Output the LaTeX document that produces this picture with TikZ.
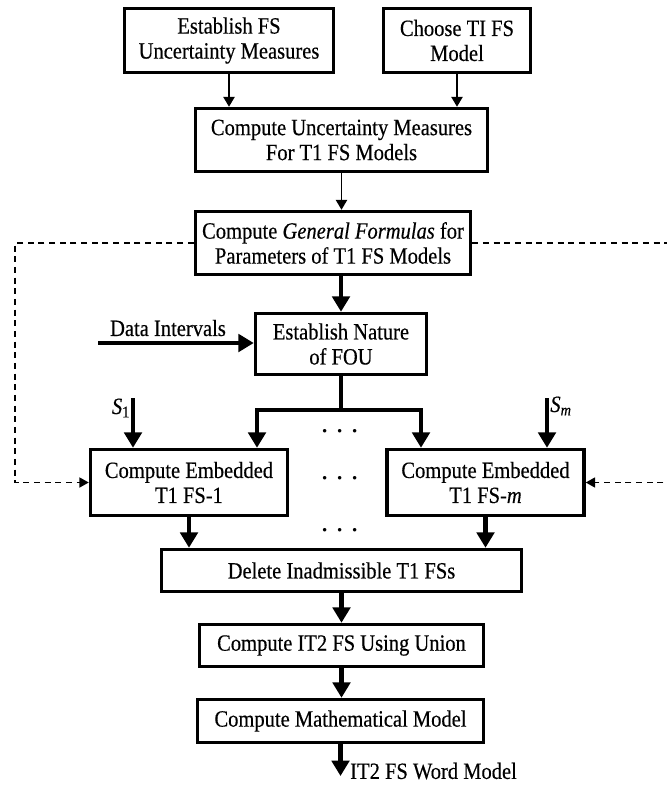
\documentclass[tikz,border=0pt]{standalone}
\usepackage{fontspec}
\setmainfont{Liberation Serif}[FakeStretch=0.88,FakeBold=0.4]
\usetikzlibrary{arrows.meta}

\begin{document}
\begin{tikzpicture}[x=0.75pt,y=-0.75pt,
  box/.style={draw,line width=2.6pt,align=center,inner sep=0pt,font=\fontsize{17.5}{18.75}\selectfont},
  txt/.style={inner sep=0pt,font=\fontsize{17.5}{18.75}\selectfont},
  thinarrow/.style={line width=1.3pt,-{Triangle[length=7.5pt,width=8.5pt]}},
  thickarrow/.style={line width=3.6pt,-{Triangle[length=11.5pt,width=13pt]}},
  feedback/.style={line width=1.1pt,dash pattern=on 4.5pt off 3.5pt,-{Triangle[length=7pt,width=7.5pt]}}]

  \useasboundingbox (0,0) rectangle (667,785);

  \node[box,minimum width=156.75pt,minimum height=48pt] (estfs) at (229,40.5) {Establish FS\\Uncertainty Measures};
  \node[box,minimum width=110.25pt,minimum height=48pt] (choose) at (457,40.5) {Choose TI FS\\Model};
  \node[box,minimum width=219pt,minimum height=47.25pt] (umeas) at (341.5,140) {Compute Uncertainty Measures\\For T1 FS Models};
  \node[box,minimum width=206.25pt,minimum height=47.25pt] (formulas) at (333,243) {Compute \textit{General Formulas} for\\Parameters of T1 FS Models};
  \node[box,minimum width=128.25pt,minimum height=45.75pt] (fou) at (341,344) {Establish Nature\\of FOU};
  \node[box,minimum width=147.75pt,minimum height=49.5pt] (emb1) at (189,482.5) {Compute Embedded\\T1 FS-1};
  \node[box,minimum width=147.75pt,minimum height=49.5pt] (embm) at (485.5,482.5) {Compute Embedded\\T1 FS-\textit{m}};
  \node[box,minimum width=270pt,minimum height=31.5pt] (delete) at (341.5,570.5) {Delete Inadmissible T1 FSs};
  \node[box,minimum width=213pt,minimum height=31.5pt] (union) at (341.5,645.5) {Compute IT2 FS Using Union};
  \node[box,minimum width=214.5pt,minimum height=32.25pt] (mathmod) at (340.5,721) {Compute Mathematical Model};

  \foreach \y/\n in {432/1,479/2,531/3}
    \node[inner sep=0pt,font=\fontsize{24}{24}\selectfont] (dots\n) at (340,\y) {$\cdots$};

  % inputs and output
  \coordinate (din) at (98,343);
  \node[txt] (datalab) at (168,328) {Data Intervals};
  \coordinate (s1in) at (133,398);
  \node[txt] (s1lab) at (121,408) {\textit{S}\textsubscript{1}};
  \coordinate (smin) at (547,398);
  \node[txt] (smlab) at (561,406) {\textit{S}\textsubscript{\textit{m}}};
  \coordinate (out) at (340.5,776);
  \node[txt,anchor=west] (wordmodel) at (350,771) {IT2 FS Word Model};

  \coordinate (fork) at (341,410);
  \coordinate (forkl) at (257,410);
  \coordinate (forkr) at (421,410);
  \coordinate (lft) at (15,360);
  \coordinate (rgt) at (672,360);

  \draw[thinarrow] (estfs.south) -- (estfs.south |- umeas.north);
  \draw[thinarrow] (choose.south) -- (choose.south |- umeas.north);
  \draw[thinarrow] (umeas.south) -- (umeas.south |- formulas.north);
  \draw[thickarrow] (fou.north |- formulas.south) -- (fou.north);
  \draw[thickarrow] (din) -- (din -| fou.west);

  \draw[thickarrow] (fou.south) -- (fork) -| (forkl |- emb1.north);
  \draw[thickarrow] (fou.south) -- (fork) -| (forkr |- embm.north);
  \draw[thickarrow] (s1in) -- (s1in |- emb1.north);
  \draw[thickarrow] (smin) -- (smin |- embm.north);

  \draw[feedback] (formulas.west) -| (lft) |- (emb1.west);
  \draw[feedback] (formulas.east) -| (rgt) |- (embm.east);

  \draw[thickarrow] (emb1.south) -- (emb1.south |- delete.north);
  \draw[thickarrow] (embm.south) -- (embm.south |- delete.north);
  \draw[thickarrow] (delete.south) -- (delete.south |- union.north);
  \draw[thickarrow] (union.south) -- (union.south |- mathmod.north);
  \draw[thickarrow] (mathmod.south) -- (out);

\end{tikzpicture}
\end{document}
